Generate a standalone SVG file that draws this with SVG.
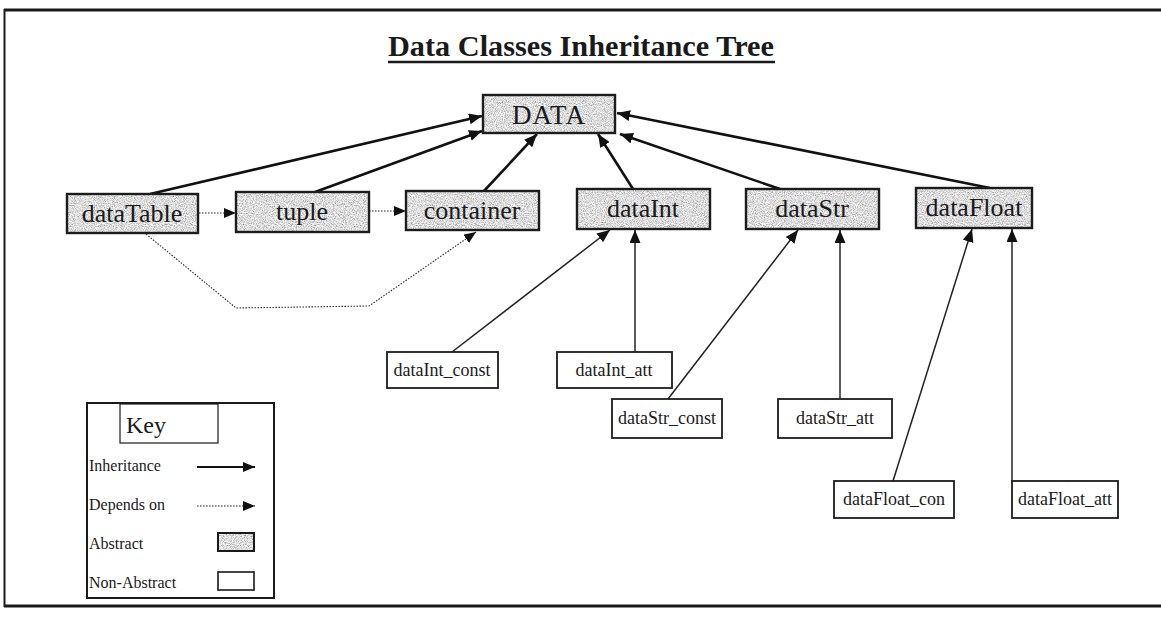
<svg xmlns="http://www.w3.org/2000/svg" width="1161" height="622" viewBox="0 0 1161 622">
  <style>
    text { font-family: "Liberation Serif", "Times New Roman", serif; fill: #1a1a1a; }
    .abs-label { font-size: 26px; text-anchor: middle; }
    .plain-label { font-size: 18px; text-anchor: middle; }
    .key-label { font-size: 16px; }
    .box-edge { fill: none; stroke: #1c1c1c; stroke-width: 2.4; }
    .plain-box { fill: #ffffff; stroke: #1c1c1c; stroke-width: 1.8; }
    .inherit-thick { fill: none; stroke: #111; stroke-width: 2.6; }
    .inherit-thin { fill: none; stroke: #222; stroke-width: 1.5; }
    .depends { fill: none; stroke: #333; stroke-width: 1.1; stroke-dasharray: 1.6 1.4; }
    .frame { stroke: #1a1a1a; fill: none; }
  </style>
  <defs>
    <!-- speckled grey used for abstract classes -->
    <filter id="grain" x="0" y="0" width="1" height="1">
      <feTurbulence type="fractalNoise" baseFrequency="0.9" numOctaves="2" seed="7" result="noise"/>
      <feColorMatrix in="noise" type="matrix" values="1.3 0 0 0 0.08  1.3 0 0 0 0.08  1.3 0 0 0 0.08  0 0 0 0 1" result="grey"/>
      <feComposite in="grey" in2="SourceGraphic" operator="in"/>
    </filter>
    <marker id="head" markerUnits="userSpaceOnUse" markerWidth="14" markerHeight="12" refX="13" refY="5.5" orient="auto">
      <path d="M0,0 L13,5.5 L0,11 z" fill="#111"/>
    </marker>
    <marker id="head-small" markerUnits="userSpaceOnUse" markerWidth="13" markerHeight="11" refX="12" refY="5" orient="auto">
      <path d="M0,0 L12,5 L0,10 z" fill="#111"/>
    </marker>
  </defs>

  <rect x="0" y="0" width="1161" height="622" fill="#ffffff"/>

  <!-- page frame -->
  <g id="frame">
    <line class="frame" x1="4" y1="10" x2="1161" y2="10" stroke-width="3.2"/>
    <line class="frame" x1="4.5" y1="9" x2="4.5" y2="607" stroke-width="2"/>
    <line class="frame" x1="4" y1="606" x2="1161" y2="606" stroke-width="3.2"/>
  </g>

  <!-- title -->
  <g id="title">
    <text x="581" y="56" font-size="30" font-weight="bold" text-anchor="middle" textLength="386" lengthAdjust="spacingAndGlyphs">Data Classes Inheritance Tree</text>
    <line x1="388" y1="62" x2="775" y2="62" stroke="#1a1a1a" stroke-width="2.6"/>
  </g>

  <!-- connectors -->
  <g id="connectors">
    <!-- inheritance from abstract classes to DATA -->
    <line class="inherit-thick" x1="150" y1="194" x2="482" y2="116" marker-end="url(#head)"/>
    <line class="inherit-thick" x1="315" y1="192" x2="482" y2="131" marker-end="url(#head)"/>
    <line class="inherit-thick" x1="484" y1="191" x2="537" y2="134" marker-end="url(#head)"/>
    <line class="inherit-thick" x1="633" y1="189" x2="598" y2="134" marker-end="url(#head)"/>
    <line class="inherit-thick" x1="780" y1="189" x2="620" y2="134" marker-end="url(#head)"/>
    <line class="inherit-thick" x1="990" y1="188" x2="617" y2="113" marker-end="url(#head)"/>
    <!-- inheritance from concrete classes -->
    <line class="inherit-thin" x1="452" y1="352" x2="610" y2="230" marker-end="url(#head)"/>
    <line class="inherit-thin" x1="635" y1="352" x2="635" y2="230" marker-end="url(#head)"/>
    <line class="inherit-thin" x1="668" y1="399" x2="798" y2="230" marker-end="url(#head)"/>
    <line class="inherit-thin" x1="840" y1="399" x2="840" y2="230" marker-end="url(#head)"/>
    <line class="inherit-thin" x1="893" y1="481" x2="972" y2="229" marker-end="url(#head)"/>
    <line class="inherit-thin" x1="1012" y1="481" x2="1012" y2="229" marker-end="url(#head)"/>
    <!-- dependencies -->
    <line class="depends" x1="199" y1="213" x2="236" y2="213" marker-end="url(#head-small)"/>
    <line class="depends" x1="369" y1="211" x2="406" y2="211" marker-end="url(#head-small)"/>
    <polyline class="depends" points="146,234 236,308 369,306 476,232" marker-end="url(#head-small)"/>
  </g>

  <!-- abstract classes -->
  <g id="node-DATA">
    <rect x="483" y="95" width="132" height="38" filter="url(#grain)"/>
    <rect class="box-edge" x="483" y="95" width="132" height="38"/>
    <text x="549" y="124" font-size="27" text-anchor="middle" letter-spacing="1">DATA</text>
  </g>
  <g id="node-dataTable">
    <rect x="67" y="194" width="131" height="39" filter="url(#grain)"/>
    <rect class="box-edge" x="67" y="194" width="131" height="39"/>
    <text class="abs-label" x="132" y="222">dataTable</text>
  </g>
  <g id="node-tuple">
    <rect x="236" y="192" width="133" height="40" filter="url(#grain)"/>
    <rect class="box-edge" x="236" y="192" width="133" height="40"/>
    <text class="abs-label" x="302" y="220">tuple</text>
  </g>
  <g id="node-container">
    <rect x="406" y="191" width="133" height="39" filter="url(#grain)"/>
    <rect class="box-edge" x="406" y="191" width="133" height="39"/>
    <text class="abs-label" x="472" y="219">container</text>
  </g>
  <g id="node-dataInt">
    <rect x="577" y="189" width="133" height="40" filter="url(#grain)"/>
    <rect class="box-edge" x="577" y="189" width="133" height="40"/>
    <text class="abs-label" x="643" y="217">dataInt</text>
  </g>
  <g id="node-dataStr">
    <rect x="746" y="189" width="133" height="40" filter="url(#grain)"/>
    <rect class="box-edge" x="746" y="189" width="133" height="40"/>
    <text class="abs-label" x="812" y="217">dataStr</text>
  </g>
  <g id="node-dataFloat">
    <rect x="916" y="188" width="116" height="40" filter="url(#grain)"/>
    <rect class="box-edge" x="916" y="188" width="116" height="40"/>
    <text class="abs-label" x="974" y="216">dataFloat</text>
  </g>

  <!-- concrete classes -->
  <g id="node-dataInt_const">
    <rect class="plain-box" x="387" y="352" width="111" height="36"/>
    <text class="plain-label" x="442" y="376">dataInt_const</text>
  </g>
  <g id="node-dataInt_att">
    <rect class="plain-box" x="557" y="352" width="115" height="36"/>
    <text class="plain-label" x="614" y="376">dataInt_att</text>
  </g>
  <g id="node-dataStr_const">
    <rect class="plain-box" x="612" y="399" width="110" height="39"/>
    <text class="plain-label" x="667" y="424">dataStr_const</text>
  </g>
  <g id="node-dataStr_att">
    <rect class="plain-box" x="778" y="399" width="114" height="39"/>
    <text class="plain-label" x="835" y="424">dataStr_att</text>
  </g>
  <g id="node-dataFloat_con">
    <rect class="plain-box" x="834" y="481" width="120" height="37"/>
    <text class="plain-label" x="894" y="505">dataFloat_con</text>
  </g>
  <g id="node-dataFloat_att">
    <rect class="plain-box" x="1012" y="481" width="106" height="37"/>
    <text class="plain-label" x="1065" y="505">dataFloat_att</text>
  </g>

  <!-- legend -->
  <g id="legend">
    <rect x="87" y="403" width="187" height="195" fill="#fff" stroke="#1a1a1a" stroke-width="2"/>
    <rect x="120" y="404" width="98" height="39" fill="#fff" stroke="#1a1a1a" stroke-width="1.2"/>
    <text x="126" y="433" font-size="24">Key</text>
    <text class="key-label" x="89" y="471">Inheritance</text>
    <line x1="197" y1="467" x2="255" y2="467" stroke="#111" stroke-width="2" marker-end="url(#head-small)"/>
    <text class="key-label" x="89" y="510">Depends on</text>
    <line x1="197" y1="506" x2="255" y2="506" stroke="#222" stroke-width="1.2" stroke-dasharray="1.6 1.4" marker-end="url(#head-small)"/>
    <text class="key-label" x="89" y="549">Abstract</text>
    <rect x="218" y="533" width="36" height="18" filter="url(#grain)"/>
    <rect x="218" y="533" width="36" height="18" fill="none" stroke="#1a1a1a" stroke-width="2"/>
    <text class="key-label" x="89" y="588">Non-Abstract</text>
    <rect x="218" y="572" width="36" height="18" fill="#fff" stroke="#1a1a1a" stroke-width="1.6"/>
  </g>
</svg>
